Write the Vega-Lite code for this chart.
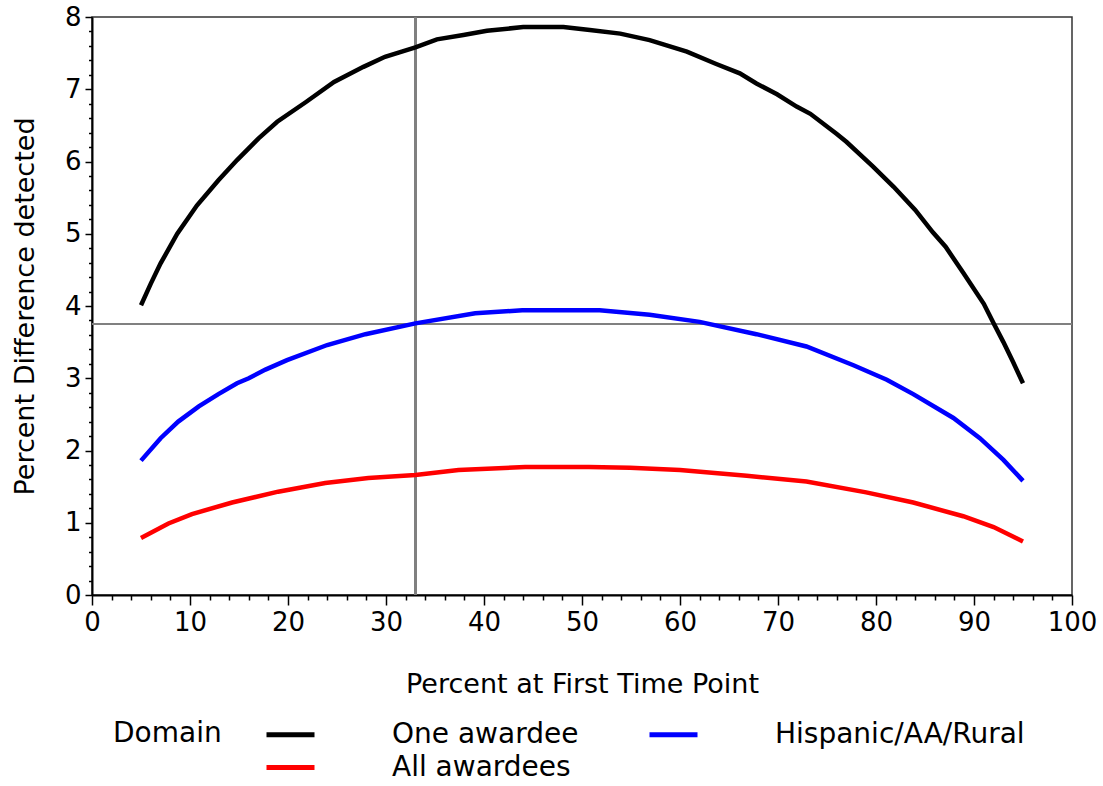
{
  "$schema": "https://vega.github.io/schema/vega-lite/v6.json",
  "width": 980,
  "height": 578,
  "autosize": {"type": "none"},
  "padding": {"left": 92, "top": 17, "right": 31, "bottom": 191},
  "background": "white",
  "config": {
    "font": "DejaVu Sans",
    "view": {"stroke": "#333333", "strokeWidth": 1.5}
  },
  "data": {
    "values": [
      {"pct": 5, "diff": 4.01, "Domain": "One awardee"},
      {"pct": 6, "diff": 4.31, "Domain": "One awardee"},
      {"pct": 7, "diff": 4.59, "Domain": "One awardee"},
      {"pct": 8.7, "diff": 5.0, "Domain": "One awardee"},
      {"pct": 10.7, "diff": 5.39, "Domain": "One awardee"},
      {"pct": 12.9, "diff": 5.74, "Domain": "One awardee"},
      {"pct": 14.8, "diff": 6.02, "Domain": "One awardee"},
      {"pct": 17, "diff": 6.32, "Domain": "One awardee"},
      {"pct": 18.9, "diff": 6.55, "Domain": "One awardee"},
      {"pct": 21.8, "diff": 6.82, "Domain": "One awardee"},
      {"pct": 24.7, "diff": 7.1, "Domain": "One awardee"},
      {"pct": 27.7, "diff": 7.31, "Domain": "One awardee"},
      {"pct": 29.9, "diff": 7.45, "Domain": "One awardee"},
      {"pct": 33, "diff": 7.58, "Domain": "One awardee"},
      {"pct": 35.2, "diff": 7.69, "Domain": "One awardee"},
      {"pct": 37.9, "diff": 7.75, "Domain": "One awardee"},
      {"pct": 40.3, "diff": 7.81, "Domain": "One awardee"},
      {"pct": 44, "diff": 7.86, "Domain": "One awardee"},
      {"pct": 48.1, "diff": 7.86, "Domain": "One awardee"},
      {"pct": 50.8, "diff": 7.82, "Domain": "One awardee"},
      {"pct": 53.9, "diff": 7.77, "Domain": "One awardee"},
      {"pct": 56.9, "diff": 7.68, "Domain": "One awardee"},
      {"pct": 60.7, "diff": 7.52, "Domain": "One awardee"},
      {"pct": 63.7, "diff": 7.35, "Domain": "One awardee"},
      {"pct": 66.1, "diff": 7.22, "Domain": "One awardee"},
      {"pct": 67.8, "diff": 7.08, "Domain": "One awardee"},
      {"pct": 69.9, "diff": 6.93, "Domain": "One awardee"},
      {"pct": 71.9, "diff": 6.76, "Domain": "One awardee"},
      {"pct": 73.3, "diff": 6.66, "Domain": "One awardee"},
      {"pct": 76, "diff": 6.38, "Domain": "One awardee"},
      {"pct": 77, "diff": 6.27, "Domain": "One awardee"},
      {"pct": 79.7, "diff": 5.93, "Domain": "One awardee"},
      {"pct": 81.8, "diff": 5.65, "Domain": "One awardee"},
      {"pct": 84, "diff": 5.33, "Domain": "One awardee"},
      {"pct": 85.8, "diff": 5.02, "Domain": "One awardee"},
      {"pct": 87.1, "diff": 4.82, "Domain": "One awardee"},
      {"pct": 88.9, "diff": 4.46, "Domain": "One awardee"},
      {"pct": 91, "diff": 4.03, "Domain": "One awardee"},
      {"pct": 92, "diff": 3.76, "Domain": "One awardee"},
      {"pct": 93, "diff": 3.5, "Domain": "One awardee"},
      {"pct": 94, "diff": 3.22, "Domain": "One awardee"},
      {"pct": 95, "diff": 2.93, "Domain": "One awardee"},
      {"pct": 5, "diff": 1.86, "Domain": "Hispanic/AA/Rural"},
      {"pct": 7, "diff": 2.17, "Domain": "Hispanic/AA/Rural"},
      {"pct": 8.8, "diff": 2.4, "Domain": "Hispanic/AA/Rural"},
      {"pct": 10.9, "diff": 2.61, "Domain": "Hispanic/AA/Rural"},
      {"pct": 12.9, "diff": 2.78, "Domain": "Hispanic/AA/Rural"},
      {"pct": 14.8, "diff": 2.93, "Domain": "Hispanic/AA/Rural"},
      {"pct": 16, "diff": 3.0, "Domain": "Hispanic/AA/Rural"},
      {"pct": 17.7, "diff": 3.12, "Domain": "Hispanic/AA/Rural"},
      {"pct": 19.9, "diff": 3.25, "Domain": "Hispanic/AA/Rural"},
      {"pct": 24, "diff": 3.46, "Domain": "Hispanic/AA/Rural"},
      {"pct": 27.9, "diff": 3.61, "Domain": "Hispanic/AA/Rural"},
      {"pct": 33, "diff": 3.76, "Domain": "Hispanic/AA/Rural"},
      {"pct": 39.1, "diff": 3.9, "Domain": "Hispanic/AA/Rural"},
      {"pct": 43.9, "diff": 3.94, "Domain": "Hispanic/AA/Rural"},
      {"pct": 47, "diff": 3.94, "Domain": "Hispanic/AA/Rural"},
      {"pct": 51.8, "diff": 3.94, "Domain": "Hispanic/AA/Rural"},
      {"pct": 56.9, "diff": 3.88, "Domain": "Hispanic/AA/Rural"},
      {"pct": 62, "diff": 3.78, "Domain": "Hispanic/AA/Rural"},
      {"pct": 67.8, "diff": 3.61, "Domain": "Hispanic/AA/Rural"},
      {"pct": 72.9, "diff": 3.44, "Domain": "Hispanic/AA/Rural"},
      {"pct": 77.7, "diff": 3.18, "Domain": "Hispanic/AA/Rural"},
      {"pct": 81.1, "diff": 2.98, "Domain": "Hispanic/AA/Rural"},
      {"pct": 83.8, "diff": 2.78, "Domain": "Hispanic/AA/Rural"},
      {"pct": 87.9, "diff": 2.45, "Domain": "Hispanic/AA/Rural"},
      {"pct": 90.6, "diff": 2.17, "Domain": "Hispanic/AA/Rural"},
      {"pct": 93, "diff": 1.87, "Domain": "Hispanic/AA/Rural"},
      {"pct": 95, "diff": 1.58, "Domain": "Hispanic/AA/Rural"},
      {"pct": 5, "diff": 0.79, "Domain": "All awardees"},
      {"pct": 7.8, "diff": 0.99, "Domain": "All awardees"},
      {"pct": 10.2, "diff": 1.12, "Domain": "All awardees"},
      {"pct": 14.3, "diff": 1.28, "Domain": "All awardees"},
      {"pct": 19, "diff": 1.43, "Domain": "All awardees"},
      {"pct": 23.8, "diff": 1.55, "Domain": "All awardees"},
      {"pct": 28.2, "diff": 1.62, "Domain": "All awardees"},
      {"pct": 33, "diff": 1.66, "Domain": "All awardees"},
      {"pct": 37.4, "diff": 1.73, "Domain": "All awardees"},
      {"pct": 44.2, "diff": 1.77, "Domain": "All awardees"},
      {"pct": 50.7, "diff": 1.77, "Domain": "All awardees"},
      {"pct": 54.9, "diff": 1.76, "Domain": "All awardees"},
      {"pct": 60, "diff": 1.73, "Domain": "All awardees"},
      {"pct": 66.8, "diff": 1.65, "Domain": "All awardees"},
      {"pct": 72.9, "diff": 1.57, "Domain": "All awardees"},
      {"pct": 79, "diff": 1.42, "Domain": "All awardees"},
      {"pct": 83.8, "diff": 1.28, "Domain": "All awardees"},
      {"pct": 88.9, "diff": 1.09, "Domain": "All awardees"},
      {"pct": 92, "diff": 0.94, "Domain": "All awardees"},
      {"pct": 95, "diff": 0.74, "Domain": "All awardees"}
    ]
  },
  "layer": [
    {
      "mark": {"type": "rule", "color": "#808080", "strokeWidth": 1.5},
      "encoding": {
        "x": {
          "datum": 33,
          "type": "quantitative",
          "scale": {"domain": [0, 100], "nice": false, "zero": false},
          "axis": {
            "values": [0,2,4,6,8,10,12,14,16,18,20,22,24,26,28,30,32,34,36,38,40,42,44,46,48,50,52,54,56,58,60,62,64,66,68,70,72,74,76,78,80,82,84,86,88,90,92,94,96,98,100],
            "labelExpr": "datum.value % 10 === 0 ? datum.label : ''",
            "tickSize": {"condition": {"test": "datum.value % 10 === 0", "value": 10}, "value": 5},
            "title": "Percent at First Time Point",
            "titleFontSize": 27,
            "titleFontWeight": "normal",
            "titleColor": "black",
            "titlePadding": 36,
            "labelFontSize": 26,
            "labelColor": "black",
            "labelPadding": 4,
            "labelFlush": false,
            "labelOverlap": false,
            "domainColor": "black",
            "domainWidth": 2,
            "tickColor": "black",
            "tickWidth": 1.5,
            "grid": false
          }
        }
      }
    },
    {
      "mark": {"type": "rule", "color": "#808080", "strokeWidth": 1.5},
      "encoding": {
        "y": {
          "datum": 3.75,
          "type": "quantitative",
          "scale": {"domain": [0, 8], "nice": false},
          "axis": {
            "values": [0,0.2,0.4,0.6,0.8,1,1.2,1.4,1.6,1.8,2,2.2,2.4,2.6,2.8,3,3.2,3.4,3.6,3.8,4,4.2,4.4,4.6,4.8,5,5.2,5.4,5.6,5.8,6,6.2,6.4,6.6,6.8,7,7.2,7.4,7.6,7.8,8],
            "labelExpr": "abs(datum.value - round(datum.value)) < 0.01 ? format(round(datum.value), 'd') : ''",
            "tickSize": {"condition": {"test": "abs(datum.value - round(datum.value)) < 0.01", "value": 7}, "value": 3.5},
            "title": "Percent Difference detected",
            "titleFontSize": 27,
            "titleFontWeight": "normal",
            "titleColor": "black",
            "titlePadding": 25,
            "labelFontSize": 26,
            "labelColor": "black",
            "labelPadding": 4,
            "labelFlush": false,
            "labelOverlap": false,
            "domainColor": "black",
            "domainWidth": 2,
            "tickColor": "black",
            "tickWidth": 1.5,
            "grid": false
          }
        }
      }
    },
    {
      "mark": {"type": "line", "strokeWidth": 4.5, "strokeCap": "butt"},
      "encoding": {
        "x": {
          "field": "pct",
          "type": "quantitative",
          "scale": {"domain": [0, 100], "nice": false, "zero": false},
          "axis": {
            "values": [0,2,4,6,8,10,12,14,16,18,20,22,24,26,28,30,32,34,36,38,40,42,44,46,48,50,52,54,56,58,60,62,64,66,68,70,72,74,76,78,80,82,84,86,88,90,92,94,96,98,100],
            "labelExpr": "datum.value % 10 === 0 ? datum.label : ''",
            "tickSize": {"condition": {"test": "datum.value % 10 === 0", "value": 10}, "value": 5},
            "title": "Percent at First Time Point",
            "titleFontSize": 27,
            "titleFontWeight": "normal",
            "titleColor": "black",
            "titlePadding": 36,
            "labelFontSize": 26,
            "labelColor": "black",
            "labelPadding": 4,
            "labelFlush": false,
            "labelOverlap": false,
            "domainColor": "black",
            "domainWidth": 2,
            "tickColor": "black",
            "tickWidth": 1.5,
            "grid": false
          }
        },
        "y": {
          "field": "diff",
          "type": "quantitative",
          "scale": {"domain": [0, 8], "nice": false},
          "axis": {
            "values": [0,0.2,0.4,0.6,0.8,1,1.2,1.4,1.6,1.8,2,2.2,2.4,2.6,2.8,3,3.2,3.4,3.6,3.8,4,4.2,4.4,4.6,4.8,5,5.2,5.4,5.6,5.8,6,6.2,6.4,6.6,6.8,7,7.2,7.4,7.6,7.8,8],
            "labelExpr": "abs(datum.value - round(datum.value)) < 0.01 ? format(round(datum.value), 'd') : ''",
            "tickSize": {"condition": {"test": "abs(datum.value - round(datum.value)) < 0.01", "value": 7}, "value": 3.5},
            "title": "Percent Difference detected",
            "titleFontSize": 27,
            "titleFontWeight": "normal",
            "titleColor": "black",
            "titlePadding": 25,
            "labelFontSize": 26,
            "labelColor": "black",
            "labelPadding": 4,
            "labelFlush": false,
            "labelOverlap": false,
            "domainColor": "black",
            "domainWidth": 2,
            "tickColor": "black",
            "tickWidth": 1.5,
            "grid": false
          }
        },
        "color": {
          "field": "Domain",
          "type": "nominal",
          "scale": {
            "domain": ["One awardee", "Hispanic/AA/Rural", "All awardees"],
            "range": ["#000000", "#0000FF", "#FF0000"]
          },
          "legend": {
            "orient": "none",
            "legendX": 21,
            "legendY": 703,
            "direction": "horizontal",
            "columns": 2,
            "title": "Domain",
            "titleOrient": "left",
            "titleAnchor": "start",
            "titleFontSize": 28,
            "titleFontWeight": "normal",
            "titleColor": "black",
            "titlePadding": 54,
            "symbolType": "M-2,0H2",
            "symbolSize": 576,
            "symbolStrokeWidth": 5,
            "labelFontSize": 28,
            "labelColor": "black",
            "labelOffset": 87,
            "labelLimit": 400,
            "columnPadding": 60,
            "rowPadding": 4
          }
        },
        "order": {"field": "pct", "type": "quantitative"}
      }
    }
  ]
}
